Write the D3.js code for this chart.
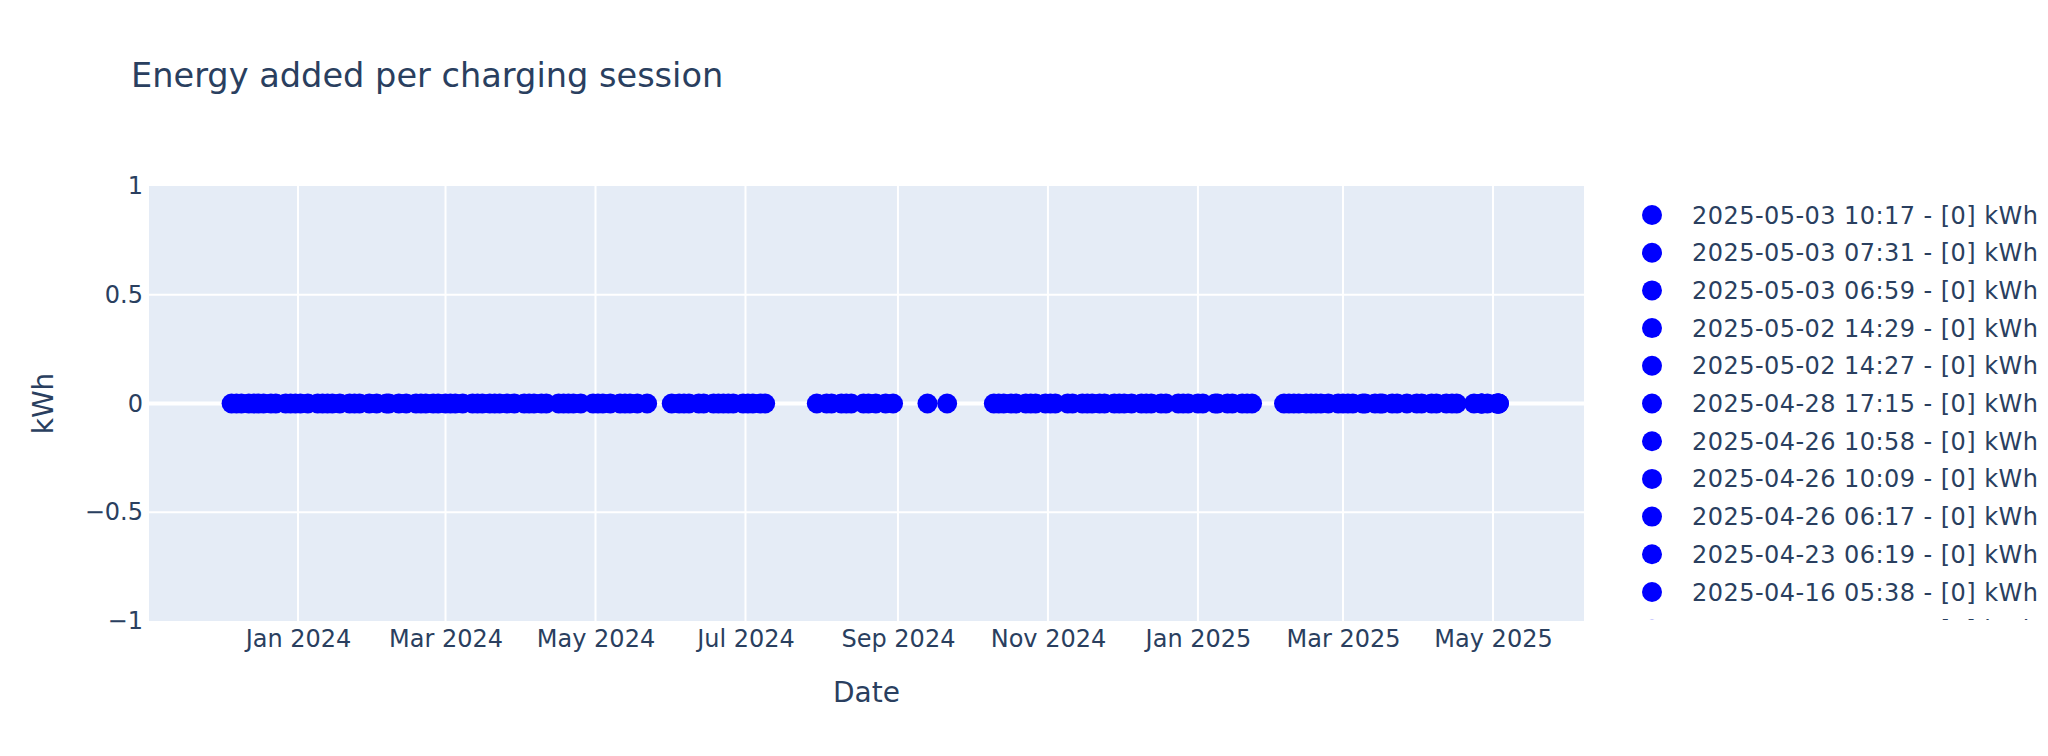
<!DOCTYPE html>
<html>
<head>
<meta charset="utf-8">
<script src="https://cdn.jsdelivr.net/npm/d3@7"></script>
<style>
  html, body { margin: 0; padding: 0; background: #ffffff; }
  svg { display: block; font-family: "DejaVu Sans", Verdana, sans-serif; }
</style>
</head>
<body>
<svg id="chart" width="2048" height="756"></svg>
<script>
// ---------------- data ----------------
const chartTitle = "Energy added per charging session";
const xAxisTitle = "Date";
const yAxisTitle = "kWh";

// charging sessions: [timestamp, energy added in kWh]
const sessions = [
  ["2023-12-05", 0], ["2023-12-07", 0], ["2023-12-09", 0], ["2023-12-12", 0], ["2023-12-14", 0],
  ["2023-12-16", 0], ["2023-12-18", 0], ["2023-12-21", 0], ["2023-12-23", 0],
  ["2023-12-27", 0], ["2023-12-29", 0], ["2023-12-31", 0], ["2024-01-02", 0], ["2024-01-05", 0],
  ["2024-01-09", 0], ["2024-01-11", 0], ["2024-01-13", 0], ["2024-01-15", 0], ["2024-01-18", 0],
  ["2024-01-22", 0], ["2024-01-24", 0], ["2024-01-26", 0],
  ["2024-01-30", 0], ["2024-02-02", 0],
  ["2024-02-06", 0], ["2024-02-07", 0],
  ["2024-02-11", 0], ["2024-02-14", 0],
  ["2024-02-18", 0], ["2024-02-20", 0], ["2024-02-22", 0], ["2024-02-25", 0], ["2024-02-27", 0],
  ["2024-03-01", 0], ["2024-03-03", 0], ["2024-03-05", 0], ["2024-03-08", 0],
  ["2024-03-12", 0], ["2024-03-14", 0], ["2024-03-16", 0], ["2024-03-19", 0], ["2024-03-21", 0],
  ["2024-03-23", 0], ["2024-03-26", 0], ["2024-03-29", 0],
  ["2024-04-02", 0], ["2024-04-04", 0], ["2024-04-06", 0], ["2024-04-09", 0], ["2024-04-11", 0],
  ["2024-04-16", 0], ["2024-04-18", 0], ["2024-04-20", 0], ["2024-04-22", 0], ["2024-04-25", 0],
  ["2024-04-30", 0], ["2024-05-02", 0], ["2024-05-04", 0], ["2024-05-07", 0],
  ["2024-05-11", 0], ["2024-05-13", 0], ["2024-05-15", 0], ["2024-05-18", 0],
  ["2024-05-22", 0],
  ["2024-06-01", 0],
  ["2024-06-04", 0], ["2024-06-06", 0], ["2024-06-08", 0],
  ["2024-06-12", 0], ["2024-06-14", 0],
  ["2024-06-18", 0], ["2024-06-20", 0], ["2024-06-22", 0], ["2024-06-24", 0], ["2024-06-26", 0],
  ["2024-06-30", 0], ["2024-07-02", 0], ["2024-07-04", 0], ["2024-07-07", 0], ["2024-07-09", 0],
  ["2024-07-30", 0],
  ["2024-08-03", 0], ["2024-08-05", 0],
  ["2024-08-09", 0], ["2024-08-11", 0], ["2024-08-13", 0],
  ["2024-08-18", 0], ["2024-08-20", 0], ["2024-08-23", 0],
  ["2024-08-27", 0], ["2024-08-30", 0],
  ["2024-09-13", 0], ["2024-09-21", 0],
  ["2024-10-10", 0], ["2024-10-12", 0], ["2024-10-14", 0], ["2024-10-17", 0], ["2024-10-19", 0],
  ["2024-10-23", 0], ["2024-10-25", 0], ["2024-10-27", 0],
  ["2024-10-31", 0], ["2024-11-02", 0], ["2024-11-04", 0],
  ["2024-11-09", 0], ["2024-11-11", 0],
  ["2024-11-15", 0], ["2024-11-17", 0], ["2024-11-19", 0], ["2024-11-22", 0], ["2024-11-24", 0],
  ["2024-11-28", 0], ["2024-11-30", 0], ["2024-12-02", 0], ["2024-12-05", 0],
  ["2024-12-09", 0], ["2024-12-11", 0], ["2024-12-13", 0],
  ["2024-12-17", 0], ["2024-12-19", 0],
  ["2024-12-24", 0], ["2024-12-26", 0], ["2024-12-28", 0],
  ["2025-01-01", 0], ["2025-01-03", 0],
  ["2025-01-08", 0], ["2025-01-09", 0],
  ["2025-01-13", 0], ["2025-01-15", 0],
  ["2025-01-19", 0], ["2025-01-21", 0], ["2025-01-23", 0],
  ["2025-02-05", 0], ["2025-02-07", 0], ["2025-02-09", 0], ["2025-02-11", 0], ["2025-02-14", 0],
  ["2025-02-16", 0], ["2025-02-18", 0], ["2025-02-20", 0], ["2025-02-23", 0],
  ["2025-02-27", 0], ["2025-03-01", 0], ["2025-03-03", 0], ["2025-03-05", 0],
  ["2025-03-09", 0], ["2025-03-10", 0],
  ["2025-03-14", 0], ["2025-03-16", 0], ["2025-03-17", 0],
  ["2025-03-21", 0], ["2025-03-23", 0],
  ["2025-03-27", 0],
  ["2025-03-31", 0], ["2025-04-02", 0],
  ["2025-04-06", 0], ["2025-04-08", 0],
  ["2025-04-12", 0], ["2025-04-14 07:40", 0],
  ["2025-04-16 05:38", 0],
  ["2025-04-23 06:19", 0],
  ["2025-04-26 06:17", 0], ["2025-04-26 10:09", 0], ["2025-04-26 10:58", 0],
  ["2025-04-28 17:15", 0],
  ["2025-05-02 14:27", 0], ["2025-05-02 14:29", 0],
  ["2025-05-03 06:59", 0], ["2025-05-03 07:31", 0], ["2025-05-03 10:17", 0]
];

const xRange = ["2023-11-01 10:00", "2025-06-07 00:00"];
const xTickDates = ["2024-01-01", "2024-03-01", "2024-05-01", "2024-07-01", "2024-09-01",
                    "2024-11-01", "2025-01-01", "2025-03-01", "2025-05-01"];
const yRange = [-1, 1];
const yTicks = [-1, -0.5, 0, 0.5, 1];

// ---------------- drawing ----------------
const parseFull = d3.timeParse("%Y-%m-%d %H:%M");
const parseDay = d3.timeParse("%Y-%m-%d");
const parseT = s => parseFull(s) || parseDay(s);

const plot = { left: 149, right: 1584, top: 186, bottom: 621 };
const textColor = "#2a3f5f";
const markerColor = "#0000ff";

const svg = d3.select("#chart");
svg.append("rect").attr("width", 2048).attr("height", 756).attr("fill", "#ffffff");

const x = d3.scaleTime().domain(xRange.map(parseT)).range([plot.left, plot.right]);
const y = d3.scaleLinear().domain(yRange).range([plot.bottom, plot.top]);

svg.append("rect")
  .attr("x", plot.left).attr("y", plot.top)
  .attr("width", plot.right - plot.left).attr("height", plot.bottom - plot.top)
  .attr("fill", "#E5ECF6");

const xTicks = xTickDates.map(parseT);

// vertical grid
svg.append("g").selectAll("line").data(xTicks).join("line")
  .attr("x1", d => x(d)).attr("x2", d => x(d))
  .attr("y1", plot.top).attr("y2", plot.bottom)
  .attr("stroke", "#ffffff").attr("stroke-width", 2);

// horizontal grid (skip edges and zero)
svg.append("g").selectAll("line").data(yTicks.filter(v => v !== 0 && v !== yRange[0] && v !== yRange[1])).join("line")
  .attr("x1", plot.left).attr("x2", plot.right)
  .attr("y1", d => y(d)).attr("y2", d => y(d))
  .attr("stroke", "#ffffff").attr("stroke-width", 2);

// zero line
svg.append("line")
  .attr("x1", plot.left).attr("x2", plot.right)
  .attr("y1", y(0)).attr("y2", y(0))
  .attr("stroke", "#ffffff").attr("stroke-width", 4);

// axes
const xAxis = svg.append("g")
  .attr("transform", `translate(0,${plot.bottom})`)
  .call(d3.axisBottom(x).tickValues(xTicks).tickFormat(d3.timeFormat("%b %Y")).tickSize(0).tickPadding(9));
xAxis.select(".domain").remove();
xAxis.selectAll("text").attr("font-size", 24).attr("fill", textColor)
  .attr("font-family", '"DejaVu Sans", Verdana, sans-serif');

const yAxis = svg.append("g")
  .attr("transform", `translate(${plot.left},0)`)
  .call(d3.axisLeft(y).tickValues(yTicks).tickFormat(d3.format("~g")).tickSize(0).tickPadding(6));
yAxis.select(".domain").remove();
yAxis.selectAll("text").attr("font-size", 24).attr("fill", textColor)
  .attr("font-family", '"DejaVu Sans", Verdana, sans-serif');

// markers
const points = sessions.map(([t, v]) => ({ t: parseT(t), label: t, v }));
svg.append("g").selectAll("circle").data(points).join("circle")
  .attr("cx", d => x(d.t)).attr("cy", d => y(d.v))
  .attr("r", 10).attr("fill", markerColor);

// titles
svg.append("text").attr("x", 131).attr("y", 87)
  .attr("font-size", 33.6).attr("fill", textColor).text(chartTitle);

svg.append("text").attr("x", (plot.left + plot.right) / 2).attr("y", 702)
  .attr("text-anchor", "middle").attr("font-size", 28).attr("fill", textColor).text(xAxisTitle);

svg.append("text").attr("transform", `translate(53,${(plot.top + plot.bottom) / 2}) rotate(-90)`)
  .attr("text-anchor", "middle").attr("font-size", 28).attr("fill", textColor).text(yAxisTitle);

// legend (most recent first, clipped to plot height)
svg.append("defs").append("clipPath").attr("id", "legclip")
  .append("rect").attr("x", 1590).attr("y", plot.top).attr("width", 458).attr("height", 620 - plot.top);

const legendItems = points.slice().sort((a, b) => b.t - a.t);
const rowStart = 215, rowStep = 37.7;
const visibleRows = legendItems.filter((d, i) => rowStart + i * rowStep - 12 < 620);
const leg = svg.append("g").attr("clip-path", "url(#legclip)");
const rows = leg.selectAll("g").data(visibleRows).join("g")
  .attr("transform", (d, i) => `translate(0,${rowStart + i * rowStep})`);
rows.append("circle").attr("cx", 1652).attr("cy", 0).attr("r", 10).attr("fill", markerColor);
rows.append("text").attr("x", 1692).attr("y", 8.5)
  .attr("font-size", 24).attr("letter-spacing", 0.45).attr("fill", textColor)
  .text(d => `${d.label} - [${d.v}] kWh`);
</script>
</body>
</html>
